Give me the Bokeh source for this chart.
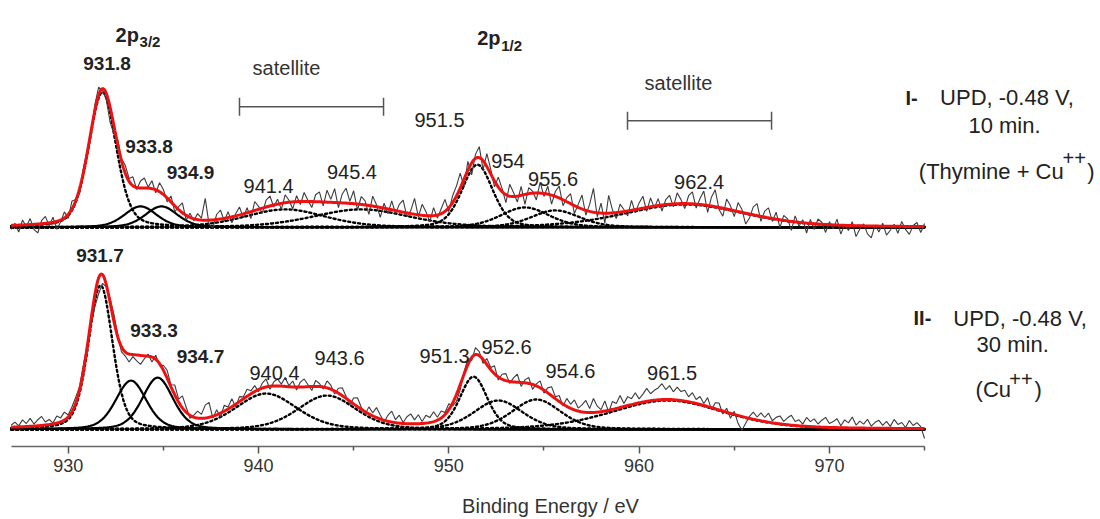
import numpy as np
from bokeh.plotting import figure
from bokeh.models import Range1d, FixedTicker, ColumnDataSource
from bokeh.core.properties import value
from bokeh.embed import file_html
from bokeh.resources import INLINE

FONT = "Liberation Sans"

# ---------------- data ----------------
# Fitted Cu 2p components (binding energy / eV, height / a.u., FWHM / eV)
# Spectrum I : UPD, -0.48 V, 10 min (Thymine + Cu++)
comp_I_center = [931.8, 933.8, 934.9, 941.4, 945.4, 951.5, 954.0, 955.6, 962.4]
comp_I_height = [136, 21, 21, 18, 18, 63, 20, 17, 23]
comp_I_fwhm = [1.7, 2.0, 2.0, 5.0, 6.0, 1.9, 3.0, 3.0, 7.5]
comp_I_solid = [False, True, True, False, False, False, False, False, False]

# Spectrum II : UPD, -0.48 V, 30 min (Cu++)
comp_II_center = [931.7, 933.3, 934.7, 940.4, 943.6, 951.3, 952.6, 954.6, 961.5]
comp_II_height = [145, 49, 52, 36, 34, 53, 29, 30, 29]
comp_II_fwhm = [1.5, 1.9, 1.9, 3.8, 3.6, 1.7, 3.0, 3.0, 7.0]
comp_II_solid = [False, True, True, False, False, False, False, False, False]

# Lorentzian fraction of the pseudo-Voigt line shape
lorentz_fraction = 0.3

# Measured counts relative to the fit envelope, sampled every 0.2 eV from 927 eV
raw_start, raw_step = 927.0, 0.2
raw_I_resid = [
    -4, 2, -7, 5, -2, 6, -5, -9, 3, 7, -3, 5, -8, -2, 6, -4, 8, 1, -5, 4,
    3, -3, 6, 8, -2, -6, -15, -8, 5, 2,
    8, 3, 9, -2, 7, 10, 1, 8, -3, 9, 5, -4, 6, -6, 3, 10, -5, 4, -2, 6,
    2, 22, -4, -8, 5, 9, -3, 6, -6, 2, 8, -4, 5, -7, 9, 3, -5, 7, 10, -2,
    5, -6, 8, 2, -7, 6, -3, 9, 1, -6, 7, 10, -4, 12, 3, 14, -5, 9, 15, 2,
    13, -6, 8, 4, -9, 10, 2, -10, 5, -5, 9, -3, 7, 12, -4, 3, 16, -2, 11, 4,
    -6, 8, -3, 5, 12, -4, 7, 10, 15, -8, 9, -12, 4, 11, -9, 13, 5, -6, 10, 3,
    -8, 12, 4, -6, 9, -10, 6, 2, -7, 11, -3, 8, -9, 5, 12, -6, 4, 10, -8, 3,
    14, -5, 7, 24, -4, 10, -10, 18, 3, -6, 8, 2, -5, 10, -3, 6, 12, -4, 9, -2,
    7, -6, 5, 9, -3, 11, 4, -5, 8, 12, -4, 6, 14, -7, 9, 17, -2, -8, 10, 4,
    -6, 9, 3, -11, -4, 8, 12, -5, 6, 10, -3, 7, -8, 5, 2, -9, 6, -4, 3, -10,
    4, -6, 5, 2, -8, 3, -4, 6, -9, 1, -5, 4, -11, -3, 2, -8, -12, 1, -6, 3,
    -9, -4, 2, -7, 5, -3, -8, 1, 4, -6, 3,
]
raw_II_resid = [
    2, 5, 1, 7, 3, 8, 2, 6, 9, 3, 5, 1, 7, 4, 8, 2, 5, 6, 3, 6,
    2, -6, -12, -16, -9, -2, 4, 7, 2, -5,
    -4, -8, -2, -6, -9, -3, 2, -5, 4, -2, 5, 8, 2, 10, 3, 12, 5, -3, 2, 7,
    4, 13, 15, -2, 5, -4, 6, 2, 8, -3, 5, 2, 7, 3, 6, -2, 5, 8, -3, 4,
    7, 2, 9, 1, 6, -3, 5, 8, 2, -4, 6, 3, -2, 7, 4, -3, 5, 8, 2, -4,
    6, 9, 2, -3, 7, 3, 10, 4, -2, 6, 11, 3, 8, 1, 7, 10, 4, 9, 2, 8,
    5, 10, 3, 7, 2, 6, -3, -7, -5, 2, 6, -3, 7, 4, -4, 6, 2, 8, -3, 5,
    7, -2, 4, 8, -4, 3, 6, -5, 2, 7, -3, 5, 9, 2, 6, -2, 8, 4, 10, 3,
    7, 12, 4, 14, 6, 2, 10, -2, 8, 5, 12, 3, 9, 6, 11, 4, 8, 13, 7, 10,
    12, 16, 10, 14, 8, 13, 9, 11, 5, 10, 4, 8, 2, 9, -2, 6, 7, -3, 4, -5,
    3, -8, -14, -6, 2, 7, 3, 8, 4, 9, 2, 6, 8, 3, 7, 10, 4, 6, 2, 9,
    5, 8, 3, 7, 10, 4, 6, 9, 2, 8, 5, 11, 3, 7, 4, 9, 2, 6, 8, 3,
    7, 2, 9, 4, 6, 1, 8, 3, 6, 2, -10,
]

# vertical offset of each stacked spectrum
offset_I = 203.4
offset_II = 0.0

# axis ticks
major_ticks = [930, 940, 950, 960, 970]
minor_ticks = [935, 945, 955, 965, 975]

# peak annotations: (text, x, y)
labels_I_bold = [("931.8", 932.04, 368.7), ("933.8", 934.25, 284.7), ("934.9", 936.43, 258.7)]
labels_I = [("941.4", 940.53, 244.7), ("945.4", 944.91, 258.7), ("951.5", 949.51, 311.7),
            ("954", 953.11, 269.7), ("955.6", 955.48, 251.7), ("962.4", 963.15, 248.7)]
labels_II_bold = [("931.7", 931.67, 174.7), ("933.3", 934.51, 99.7), ("934.7", 936.95, 73.7)]
labels_II = [("940.4", 940.84, 56.7), ("943.6", 944.26, 71.7), ("951.3", 949.78, 73.7),
             ("952.6", 953.03, 82.7), ("954.6", 956.39, 58.7), ("961.5", 961.73, 56.7)]


def pseudo_voigt(x, c, h, w, eta=lorentz_fraction):
    d = (x - c) / w
    g = np.exp(-4.0 * np.log(2.0) * d * d)
    l = 1.0 / (1.0 + 4.0 * d * d)
    return h * ((1.0 - eta) * g + eta * l)


p = figure(width=1100, height=519,
           x_range=Range1d(926.442, 984.245), y_range=Range1d(-17.3, 431.7),
           output_backend="svg", toolbar_location=None, y_axis_location=None,
           min_border_left=0, min_border_right=0, min_border_top=0, min_border_bottom=70)
p.xgrid.visible = False
p.ygrid.visible = False
p.outline_line_color = None
p.background_fill_color = "white"
p.border_fill_color = "white"

ax = p.xaxis[0]
ax.ticker = FixedTicker(ticks=major_ticks, minor_ticks=minor_ticks)
ax.bounds = (927, 975)
ax.axis_line_color = "#666666"
ax.axis_line_width = 1.6
ax.major_tick_line_color = "#555555"
ax.major_tick_line_width = 1.5
ax.minor_tick_line_color = "#555555"
ax.minor_tick_line_width = 1.5
ax.major_tick_out = 7
ax.major_tick_in = 0
ax.minor_tick_out = 4
ax.minor_tick_in = 0
ax.major_label_text_font = FONT
ax.major_label_text_font_size = "18px"
ax.major_label_text_color = "#333333"
ax.major_label_standoff = 5
ax.axis_label = "Binding Energy / eV"
ax.axis_label_text_font = FONT
ax.axis_label_text_font_size = "20px"
ax.axis_label_text_font_style = "normal"
ax.axis_label_text_color = "#333333"
ax.axis_label_standoff = 20

energy = np.arange(927.0, 975.0001, 0.05)
raw_energy_I = raw_start + raw_step * np.arange(len(raw_I_resid))
raw_energy_II = raw_start + raw_step * np.arange(len(raw_II_resid))

for centers, heights, widths, solids, resid, raw_e, off in [
    (comp_I_center, comp_I_height, comp_I_fwhm, comp_I_solid, raw_I_resid, raw_energy_I, offset_I),
    (comp_II_center, comp_II_height, comp_II_fwhm, comp_II_solid, raw_II_resid, raw_energy_II, offset_II),
]:
    envelope = np.zeros_like(energy)
    raw_env = np.zeros_like(raw_e)
    for c, h, w, solid in zip(centers, heights, widths, solids):
        comp = pseudo_voigt(energy, c, h, w)
        envelope += comp
        raw_env += pseudo_voigt(raw_e, c, h, w)
        if solid:
            p.line(energy, comp + off, line_color="black", line_width=2.2)
        else:
            p.line(energy, comp + off, line_color="black", line_width=2.4,
                   line_dash="2 3", line_cap="round")
    p.line(raw_e, raw_env + np.array(resid) + off, line_color="#3c3c3c", line_width=1.1)
    p.line(energy, envelope + off, line_color="#ee1111", line_width=3)


def add_labels(items, size, style):
    src = ColumnDataSource(dict(x=[i[1] for i in items], y=[i[2] for i in items],
                                t=[i[0] for i in items]))
    p.text(x="x", y="y", text="t", source=src, text_align="center",
           text_baseline="middle", text_font=value(FONT), text_font_size=size,
           text_font_style=style, text_color="#222222")


add_labels(labels_I_bold + labels_II_bold, "19px", "bold")
add_labels(labels_I + labels_II, "20px", "normal")


def txt(x, y, s, size, style="normal", align="left", baseline="alphabetic", color="#222222"):
    p.text(x=[x], y=[y], text=[s], text_align=align, text_baseline=baseline,
           text_font=value(FONT), text_font_size=size, text_font_style=style,
           text_color=color)


# spin-orbit component headers
txt(932.49, 396.7, "2p", "20px", "bold")
txt(933.75, 390.0, "3/2", "15px", "bold")
txt(951.49, 394.4, "2p", "20px", "bold")
txt(952.75, 386.7, "1/2", "15px", "bold")

# satellite regions
txt(941.47, 363.7, "satellite", "20px", align="center", baseline="middle", color="#333333")
txt(962.07, 348.7, "satellite", "20px", align="center", baseline="middle", color="#333333")
p.segment(x0=[939.0, 959.39], y0=[324.7, 310.7], x1=[946.57, 966.96], y1=[324.7, 310.7],
          line_color="#555555", line_width=1.5)
p.segment(x0=[939.0, 946.57, 959.39, 966.96], y0=[315.7, 315.7, 301.7, 301.7],
          x1=[939.0, 946.57, 959.39, 966.96], y1=[333.7, 333.7, 319.7, 319.7],
          line_color="#555555", line_width=1.5)

# sample descriptions
txt(974.0, 333.7, "I-", "20px", "bold", baseline="middle")
txt(979.33, 333.7, "UPD, -0.48 V,", "22px", align="center", baseline="middle")
txt(979.2, 305.7, "10 min.", "22px", align="center", baseline="middle")
txt(974.70, 260.0, "(Thymine + Cu", "22px")
txt(982.25, 273.6, "++", "20px")
txt(983.55, 260.0, ")", "22px")

txt(974.42, 111.7, "II-", "20px", "bold", baseline="middle")
txt(980.02, 111.7, "UPD, -0.48 V,", "22px", align="center", baseline="middle")
txt(979.63, 85.7, "30 min.", "22px", align="center", baseline="middle")
txt(977.68, 40.0, "(Cu", "22px")
txt(979.45, 50.8, "++", "20px")
txt(980.78, 40.0, ")", "22px")

open("out.html", "w").write(file_html(p, INLINE))
